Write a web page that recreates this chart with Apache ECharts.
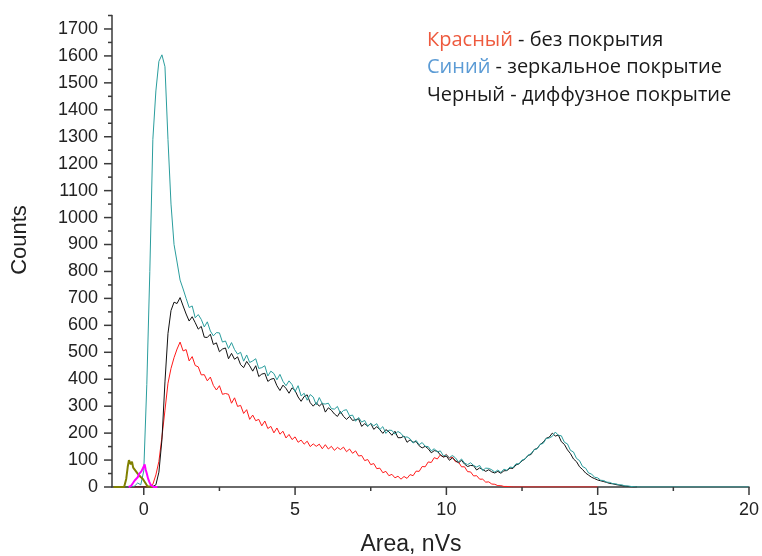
<!DOCTYPE html>
<html><head><meta charset="utf-8">
<script src="https://cdn.jsdelivr.net/npm/echarts@6/dist/echarts.min.js"></script>
<style>html,body{margin:0;padding:0;background:#fff}#c{width:762px;height:556px}</style>
</head><body><div id="c"></div><script>
// histogram bins: first bin centre and bin width (nVs)
const binStart = -1.0;
const binStep = 0.1;

const cyanCounts = [0,0,0,0,0, 0,0,4,15,8, 60,380,800,1290,1470, 1580,1604,1560,1290,1050,
 900,835,768,735,700, 666,672,628,640,622, 594,613,579,561,573, 572,538,542,514,536,
 510,493,500,467,490, 462,468,476,440,443, 450,412,430,421,398, 418,392,376,394,380,
 354,376,338,348,322, 343,334,305,332,309, 308,311,291,289,299, 273,284,287,264,267,
 244,258,241,247,225, 236,227,235,213,224, 199,211,210,196,206, 199,184,186,179,163,
 173,157,165,151,150, 134,142,130,134,116, 119,109,117,108,93, 104,89,83,90,80,
 74,80,61,70,69, 64,55,63,54,66, 62,74,72,86,86, 100,104,118,124,138,
 142,158,162,180,182, 188,204,192,190,166, 160,136,130,106,98, 76,70,52,48,36,
 34,25,24,18,17, 12,12,8,8,4, 4,2,1,0,0];
const cyanTail = [[20, 0]];

const blackCounts = [0,0,0,0,0, 0,0,0,0,0, 0,0,0,2,8, 55,175,390,570,655,
 686,681,703,672,642, 616,632,610,586,596, 556,555,567,529,535, 502,512,516,476,496,
 474,483,454,443,466, 450,430,450,410,419, 422,392,400,403,376, 358,378,366,348,368,
 358,334,318,336,342, 313,300,313,300,311, 278,294,285,271,262, 280,262,251,262,247,
 250,253,225,235,226, 236,214,224,213,199, 213,205,192,207,183, 183,189,166,175,166,
 169,153,145,151,142, 127,135,133,119,111, 115,99,108,98,90, 99,85,76,80,79,
 63,71,65,58,64, 56,52,58,51,60, 61,70,69,82,86, 97,104,117,121,139,
 143,158,166,181,185, 200,189,193,168,158, 138,124,104,94,75, 65,52,44,36,31,
 26,23,20,17,13, 12,9,7,5,3, 2,1,0,0];

const redCounts = [0,0,0,0,0, 0,0,0,0,0, 0,0,2,10,45, 95,185,285,385,440,
 480,512,538,505,510, 468,484,451,446,416, 417,394,408,377,360, 376,344,347,344,311,
 331,299,303,273,287, 251,267,246,251,227, 245,217,225,201,219, 196,207,182,195,176,
 186,166,174,159,170, 150,160,151,159,142, 157,141,151,136,147, 139,148,131,141,125,
 134,115,117,98,102, 83,87,68,70,53, 58,42,47,34,40, 29,39,32,46,42,
 59,58,76,75,93, 91,109,104,119,112, 121,107,111,94,93, 75,75,57,56,41,
 42,29,29,18,19, 11,10,5,5,2, 2,1,0,0,0];
const redTail = [[15, 0]];

const olivePoints = [[-1.0,0],[-0.65,0],[-0.58,30],[-0.53,75],[-0.49,100],[-0.46,106],[-0.43,84],
 [-0.39,94],[-0.35,72],[-0.31,76],[-0.27,60],[-0.23,62],[-0.19,48],[-0.15,50],[-0.11,38],
 [-0.07,40],[-0.03,30],[0.02,24],[0.07,12],[0.12,3],[0.16,0],[0.3,0]];
const magentaPoints = [[-0.5,0],[-0.42,4],[-0.36,14],[-0.3,24],[-0.25,30],[-0.2,36],[-0.16,48],
 [-0.12,44],[-0.08,58],[-0.04,64],[0,76],[0.03,84],[0.06,66],[0.1,50],[0.14,32],[0.18,20],
 [0.23,8],[0.28,2],[0.33,0],[0.45,0]];

const xTickValues = [0, 5, 10, 15, 20];
const xMinorTickValues = [2.5, 7.5, 12.5, 17.5];
const yTickValues = [0,100,200,300,400,500,600,700,800,900,1000,1100,1200,1300,1400,1500,1600,1700];
const yMinorTickValues = [50,150,250,350,450,550,650,750,850,950,1050,1150,1250,1350,1450,1550,1650,1750];

const xTitle = 'Area, nVs';
const yTitle = 'Counts';
const legendLines = [
  {name: 'Красный', rest: ' - без покрытия', color: '#EE5A3E'},
  {name: 'Синий', rest: ' - зеркальное покрытие', color: '#5B9BD5'},
  {name: 'Черный', rest: ' - диффузное покрытие', color: '#1a1a1a'}
];

const X_MIN = -1.05, X_MAX = 20, Y_MIN = 0, Y_MAX = 1750;

function toPairs(counts, tail) {
  const out = counts.map((v, i) => [+(binStart + i * binStep).toFixed(2), v]);
  return tail ? out.concat(tail) : out;
}

const axisColor = '#3a3a3a';
const labelFont = {fontFamily: 'Liberation Sans, Arial, sans-serif', fontSize: 18, color: '#222'};
const plain = v => String(v);
const ls = () => ({color: axisColor, width: 1.5});

const chart = echarts.init(document.getElementById('c'), null, {renderer: 'canvas'});
const lineSeries = (name, data, color, width) => ({
  name, type: 'line', data, xAxisIndex: 0, yAxisIndex: 0,
  showSymbol: false, symbol: 'none', animation: false,
  lineStyle: {color, width}, itemStyle: {color}, z: 2
});

chart.setOption({
  animation: false,
  backgroundColor: '#fff',
  grid: {left: 112, right: 12, top: 15.5, bottom: 69, containLabel: false},
  xAxis: {
    type: 'value', min: X_MIN, max: X_MAX, position: 'bottom',
    axisLine: {show: true, onZero: false, lineStyle: ls()},
    axisTick: {show: false},
    axisLabel: Object.assign({show: true, customValues: xTickValues, margin: 14, formatter: plain}, labelFont),
    splitLine: {show: false}
  },
  yAxis: {
    type: 'value', min: Y_MIN, max: Y_MAX, position: 'left',
    axisLine: {show: true, onZero: false, lineStyle: ls()},
    axisTick: {show: false},
    axisLabel: Object.assign({show: true, customValues: yTickValues, margin: 14, formatter: plain}, labelFont),
    splitLine: {show: false}
  },
  series: [
    lineSeries('red', toPairs(redCounts, redTail), '#FF1A1A', 1),
    lineSeries('black', toPairs(blackCounts), '#111111', 1),
    lineSeries('cyan', toPairs(cyanCounts, cyanTail), '#2A9D9D', 1),
    lineSeries('olive', olivePoints, '#808000', 2),
    lineSeries('magenta', magentaPoints, '#FF00FF', 2)
  ]
});

// tick marks placed through the chart's own axis scales
const tickStyle = {stroke: axisColor, lineWidth: 1.5};
const px = (x, y) => chart.convertToPixel({gridIndex: 0}, [x, y]);
const xAxisY = px(X_MIN, Y_MIN)[1];
const yAxisX = px(X_MIN, Y_MIN)[0];
const tickGraphics = [];
xTickValues.forEach(v => { const p = px(v, Y_MIN)[0];
  tickGraphics.push({type: 'line', z: 100, shape: {x1: p, y1: xAxisY, x2: p, y2: xAxisY + 8}, style: tickStyle}); });
xMinorTickValues.forEach(v => { const p = px(v, Y_MIN)[0];
  tickGraphics.push({type: 'line', z: 100, shape: {x1: p, y1: xAxisY, x2: p, y2: xAxisY + 4}, style: tickStyle}); });
yTickValues.forEach(v => { const p = px(X_MIN, v)[1];
  tickGraphics.push({type: 'line', z: 100, shape: {x1: yAxisX - 8, y1: p, x2: yAxisX, y2: p}, style: tickStyle}); });
yMinorTickValues.forEach(v => { const p = px(X_MIN, v)[1];
  tickGraphics.push({type: 'line', z: 100, shape: {x1: yAxisX - 4, y1: p, x2: yAxisX, y2: p}, style: tickStyle}); });

const textGraphics = [
  {type: 'text', x: 20, y: 240, rotation: Math.PI / 2,
   style: {text: yTitle, font: '22px "Liberation Sans", Arial, sans-serif', fill: '#222', align: 'center', verticalAlign: 'middle'}},
  {type: 'text', x: 411, y: 545,
   style: {text: xTitle, font: '23px "Liberation Sans", Arial, sans-serif', fill: '#222', align: 'center', verticalAlign: 'middle'}}
].concat(legendLines.map((l, i) => ({
  type: 'text', x: 427, y: 40 + i * 27.5,
  style: {
    text: '{n|' + l.name + '}{r|' + l.rest + '}',
    verticalAlign: 'middle', align: 'left',
    rich: {
      n: {fill: l.color, fontFamily: 'Open Sans', fontSize: 20},
      r: {fill: '#1a1a1a', fontFamily: 'Open Sans', fontSize: 20}
    }
  }
})));

chart.setOption({graphic: textGraphics.concat(tickGraphics)});
</script></body></html>
